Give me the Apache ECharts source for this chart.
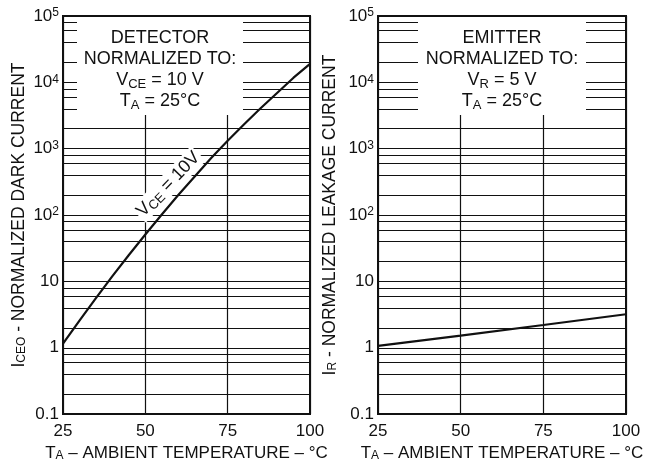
<!DOCTYPE html>
<html><head><meta charset="utf-8">
<script src="https://cdn.jsdelivr.net/npm/echarts@6/dist/echarts.min.js"></script>
<style>html,body{margin:0;padding:0;background:#fff}#c{width:657px;height:467px}</style>
</head><body><div id="c"></div>
<script>
// ---- data ----
const xTicks = [25, 50, 75, 100];
const detectorTemp = [25, 30, 35, 40, 45, 50, 55, 60, 65, 70, 75, 80, 85, 90, 95, 100];
const detectorCurrent = [1.15, 2.57, 5.6, 12, 25, 51, 102, 200, 380, 724, 1320, 2340, 4070, 6920, 11750, 19000];
const emitterTemp = [25, 50, 75, 100];
const emitterCurrent = [1.07, 1.52, 2.2, 3.2];
const yTickValues = [0.1, 1, 10, 100, 1000, 10000, 100000];
const yTickLabels = ['0.1', '1', '10', '10{sup|2}', '10{sup|3}', '10{sup|4}', '10{sup|5}'];
const minorGrid = [0.2, 0.4, 0.6, 0.8, 2, 4, 6, 8, 20, 40, 60, 80, 200, 400, 600, 800,
  2000, 4000, 6000, 8000, 20000, 40000, 60000, 80000];

const INK = '#111';
const FONT = '"Liberation Sans", Arial, Helvetica, sans-serif';

function yLabel(v) {
  const e = Math.round(Math.log10(v));
  const i = yTickValues.findIndex(t => Math.round(Math.log10(t)) === e);
  return i >= 0 ? yTickLabels[i] : '';
}

const chart = echarts.init(document.getElementById('c'));

const subRich = {
  sub: { fontSize: 12, lineHeight: 8, verticalAlign: 'bottom', fontFamily: FONT, color: INK }
};

function xAxisFor(i) {
  return {
    gridIndex: i, type: 'value', min: 25, max: 100, interval: 25,
    axisLine: { show: false }, axisTick: { show: false },
    splitLine: { show: true, lineStyle: { color: INK, width: 1.2 } },
    axisLabel: { fontSize: 17, margin: 9, color: INK, fontFamily: FONT,
      formatter: v => xTicks.includes(v) ? String(v) : '' },
    name: 'T{sub|A} – AMBIENT TEMPERATURE – °C',
    nameLocation: 'middle', nameGap: 26,
    nameTextStyle: { fontSize: 17, color: INK, fontFamily: FONT, rich: subRich }
  };
}
function yAxisFor(i, name, gap) {
  return {
    gridIndex: i, type: 'log', logBase: 10, min: 0.1, max: 100000, splitNumber: 6,
    axisLine: { show: false }, axisTick: { show: false },
    splitLine: { show: true, lineStyle: { color: INK, width: 1.2 } },
    axisLabel: { fontSize: 17, lineHeight: 18, margin: 4, color: INK, fontFamily: FONT,
      formatter: yLabel,
      rich: { sup: { fontSize: 12, lineHeight: 6, verticalAlign: 'top', fontFamily: FONT, color: INK } } },
    name: name, nameLocation: 'middle', nameRotate: 90, nameGap: gap,
    nameTextStyle: { fontSize: 17.5, color: INK, fontFamily: FONT, rich: subRich }
  };
}
function gridLines(i) {
  return {
    type: 'line', xAxisIndex: i, yAxisIndex: i, data: [], z: 1, silent: true,
    markLine: { silent: true, symbol: 'none', animation: false, label: { show: false },
      lineStyle: { color: INK, width: 1.2, type: 'solid' },
      data: minorGrid.map(v => ({ yAxis: v })) }
  };
}

const boxTextRich = {
  b: { fontSize: 18, lineHeight: 21, fontFamily: FONT, fill: INK, color: INK },
  s: { fontSize: 13, lineHeight: 12, verticalAlign: 'bottom', fontFamily: FONT, fill: INK, color: INK }
};

const option = {
  animation: false,
  backgroundColor: '#fff',
  textStyle: { fontFamily: FONT, color: INK },
  grid: [
    { left: 63, right: 347, top: 16, bottom: 49, show: true, borderColor: INK, borderWidth: 2, containLabel: false },
    { left: 378, right: 31, top: 16, bottom: 49, show: true, borderColor: INK, borderWidth: 2, containLabel: false }
  ],
  xAxis: [xAxisFor(0), xAxisFor(1)],
  yAxis: [
    yAxisFor(0, 'I{sub|CEO} - NORMALIZED DARK CURRENT', 35),
    yAxisFor(1, 'I{sub|R} - NORMALIZED LEAKAGE CURRENT', 39)
  ],
  graphic: [
    { type: 'rect', z: 50, shape: { x: 77, y: 17, width: 166, height: 98 }, style: { fill: '#fff' } },
    { type: 'text', z: 51, x: 160, y: 70, style: {
      text: '{b|DETECTOR}\n{b|NORMALIZED TO:}\n{b|V}{s|CE}{b| = 10 V}\n{b|T}{s|A}{b| = 25°C}',
      rich: boxTextRich, align: 'center', verticalAlign: 'middle', fill: INK, font: '18px ' + FONT } },
    { type: 'rect', z: 50, shape: { x: 418, y: 17, width: 168, height: 98 }, style: { fill: '#fff' } },
    { type: 'text', z: 51, x: 502, y: 70, style: {
      text: '{b|EMITTER}\n{b|NORMALIZED TO:}\n{b|V}{s|R}{b| = 5 V}\n{b|T}{s|A}{b| = 25°C}',
      rich: boxTextRich, align: 'center', verticalAlign: 'middle', fill: INK, font: '18px ' + FONT } }
  ],
  series: [
    gridLines(0), gridLines(1),
    {
      name: 'detector', type: 'line', xAxisIndex: 0, yAxisIndex: 0, z: 5,
      data: detectorTemp.map((t, k) => [t, detectorCurrent[k]]),
      showSymbol: false, symbol: 'none', smooth: false,
      lineStyle: { color: INK, width: 2.2 },
      markPoint: {
        symbol: 'rect', symbolSize: 0, silent: true,
        data: [{ coord: [57, 290], value: 0,
          label: { show: true, position: 'inside', rotate: 46,
            formatter: '{b|V}{s|CE}{b| = 10V}',
            backgroundColor: '#fff', padding: [0, 2],
            rich: boxTextRich } }]
      }
    },
    {
      name: 'emitter', type: 'line', xAxisIndex: 1, yAxisIndex: 1, z: 5,
      data: emitterTemp.map((t, k) => [t, emitterCurrent[k]]),
      showSymbol: false, symbol: 'none', smooth: false,
      lineStyle: { color: INK, width: 2.2 }
    }
  ]
};
chart.setOption(option);
</script></body></html>
